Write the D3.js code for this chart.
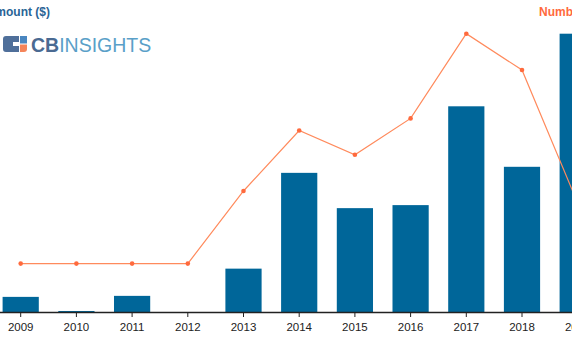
<!DOCTYPE html>
<html><head><meta charset="utf-8">
<script src="https://cdn.jsdelivr.net/npm/d3@7"></script>
<style>html,body{margin:0;padding:0;background:#fff;overflow:hidden}</style>
</head><body>
<svg id="c" width="572" height="355"></svg>
<script>
const years = ["2009","2010","2011","2012","2013","2014","2015","2016","2017","2018","2019"];
const fundingM = [15, 1, 16, 0, 43, 138, 103, 106, 204, 144, 276];
const deals = [4, 4, 4, 4, 10, 15, 13, 16, 23, 20, 9];
const leftTitle = "Disclosed Equity Funding Amount ($)";
const rightTitle = "Number of Deals";

const svg = d3.select("#c");
const baseY = 312, topY = 9.5;
const x = d3.scaleBand().domain(years).range([-7.15, -7.15 + 11*55.7]).paddingInner(0.35).paddingOuter(0.175);
const yBar = d3.scaleLinear().domain([0, 300]).range([baseY, topY]);
const yLine = d3.scaleLinear().domain([0, 25]).range([baseY, topY]);

svg.append("g").selectAll("rect").data(years).join("rect")
  .attr("x", d => x(d)).attr("width", x.bandwidth())
  .attr("y", (d,i) => yBar(fundingM[i])).attr("height", (d,i) => baseY - yBar(fundingM[i]))
  .attr("fill", "#006699");

const ax = svg.append("g").attr("transform", `translate(0,${baseY})`)
  .call(d3.axisBottom(x).tickSize(5).tickSizeOuter(0));
ax.select(".domain").attr("stroke", "#222").attr("stroke-width", 1.5);
ax.selectAll(".tick line").attr("stroke", "#222");
ax.selectAll(".tick text").attr("font-family", "Liberation Sans, Arial, sans-serif")
  .attr("font-size", "11.5px").attr("fill", "#222").attr("dy", "0.95em");

const cx = d => x(d) + x.bandwidth()/2;
svg.append("path").datum(years)
  .attr("d", d3.line().x(d => cx(d)).y((d,i) => yLine(deals[i])))
  .attr("fill", "none").attr("stroke", "#ff8a5c").attr("stroke-width", 1.2);
svg.append("g").selectAll("circle").data(years).join("circle")
  .attr("cx", d => cx(d)).attr("cy", (d,i) => yLine(deals[i])).attr("r", 2.3)
  .attr("fill", "#ff6a3d");

svg.append("text").attr("x", 50).attr("y", 16).attr("text-anchor", "end")
  .attr("font-family", "Liberation Sans, Arial, sans-serif").attr("font-weight", "bold")
  .attr("font-size", "12px").attr("fill", "#2a6496").text(leftTitle);
svg.append("text").attr("x", 539).attr("y", 16).attr("text-anchor", "start")
  .attr("font-family", "Liberation Sans, Arial, sans-serif").attr("font-weight", "bold")
  .attr("font-size", "12px").attr("fill", "#ff6a3d").text(rightTitle);

// logo
const logo = svg.append("g").attr("transform", "translate(3,36)");
logo.append("path").attr("d", "M3,0 H16 V6 H10 V10 H16 V16 H3 Q0,16 0,13 V3 Q0,0 3,0 Z").attr("fill", "#4f6f9a");
logo.append("rect").attr("x", 17).attr("y", 0).attr("width", 7).attr("height", 7.5).attr("fill", "#4a86c0");
logo.append("path").attr("d", "M17,8.5 H24 V13 Q24,16 21,16 H17 Z").attr("fill", "#f5845a");
const lt = svg.append("text").attr("x", 31).attr("y", 51.5)
  .attr("font-family", "Liberation Sans, Arial, sans-serif").attr("font-size", "19.5px");
lt.append("tspan").attr("font-weight", "bold").attr("fill", "#4a6a92").text("CB");
lt.append("tspan").attr("fill", "#5aa0c8").attr("font-weight", "normal").text("INSIGHTS");
</script>
</body></html>
